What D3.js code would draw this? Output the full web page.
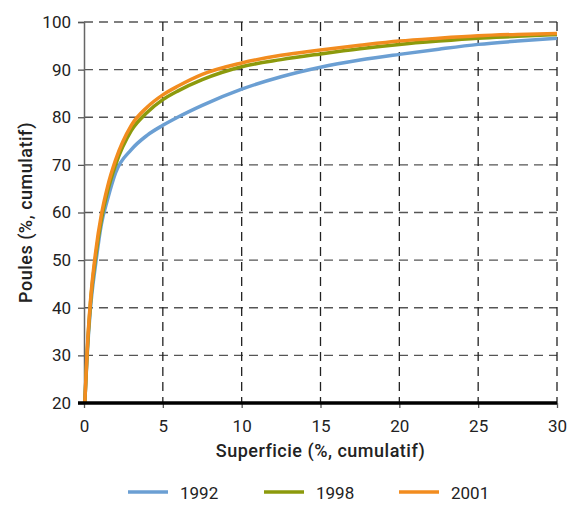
<!DOCTYPE html>
<html>
<head>
<meta charset="utf-8">
<script src="https://cdn.jsdelivr.net/npm/d3@7"></script>
<style>
  body { margin: 0; background: #fff; }
  text { font-family: Roboto, "Open Sans", sans-serif; fill: #222; }
</style>
</head>
<body>
<div id="chart"></div>
<script>
// cumulative surface (%) vs cumulative hens (%)
const superficie = [0.05, 0.2, 0.4, 0.75, 1.1, 1.5, 2, 3, 4, 5, 6, 7.5, 10, 12.5, 15, 17.5, 20, 22.5, 25, 27.5, 30];
const poules1992 = [20, 30, 39.5, 49.5, 57.5, 62.8, 68.3, 73.2, 76.2, 78.3, 80.1, 82.5, 85.9, 88.5, 90.5, 92, 93.2, 94.3, 95.3, 96, 96.6];
const poules1998 = [20, 30.5, 40.5, 51, 58.5, 64.5, 70, 77.2, 81, 83.7, 85.6, 87.9, 90.6, 92.1, 93.3, 94.4, 95.3, 96, 96.6, 97, 97.4];
const poules2001 = [20, 31, 41, 52, 59.5, 65.5, 71, 78.3, 82.1, 84.7, 86.6, 89, 91.4, 93, 94.1, 95.1, 96, 96.6, 97.1, 97.4, 97.6];
const seriesNames = ['1992', '1998', '2001'];
const seriesColors = ['#6b9fd3', '#8c9a0c', '#f28c1f'];
const xTicks = [0, 5, 10, 15, 20, 25, 30];
const yTicks = [20, 30, 40, 50, 60, 70, 80, 90, 100];

const width = 571, height = 505;
const margin = { top: 22, right: 14, bottom: 102, left: 84 };
const w = width - margin.left - margin.right;
const h = height - margin.top - margin.bottom;

const x = d3.scaleLinear().domain([0, 30]).range([0, w]);
const y = d3.scaleLinear().domain([20, 100]).range([h, 0]);

const svg = d3.select('#chart').append('svg')
  .attr('width', width)
  .attr('height', height);

const g = svg.append('g')
  .attr('transform', `translate(${margin.left},${margin.top})`);

// horizontal grid
g.append('g')
  .selectAll('line')
  .data(yTicks.filter(d => d > 20))
  .join('line')
  .attr('x1', 0).attr('x2', w)
  .attr('y1', d => y(d)).attr('y2', d => y(d))
  .attr('stroke', '#555')
  .attr('stroke-width', 1.3)
  .attr('stroke-dasharray', '9,6');

// vertical grid
g.append('g')
  .selectAll('line')
  .data(xTicks.filter(d => d > 0))
  .join('line')
  .attr('x1', d => x(d)).attr('x2', d => x(d))
  .attr('y1', 0).attr('y2', h)
  .attr('stroke', '#222')
  .attr('stroke-width', 1.3)
  .attr('stroke-dasharray', '9,6');

// y axis
const yAxis = g.append('g')
  .call(d3.axisLeft(y).tickValues(yTicks).tickSize(6).tickPadding(7));
yAxis.select('.domain').attr('stroke', '#666').attr('stroke-width', 1.5);
yAxis.selectAll('.tick line').attr('stroke', '#555').attr('stroke-width', 1.3);
yAxis.selectAll('text')
  .style('font-size', '17px')
  .attr('fill', '#222');

// x axis
const xAxis = g.append('g')
  .attr('transform', `translate(0,${h})`)
  .call(d3.axisBottom(x).tickValues(xTicks).tickSize(5).tickPadding(12));
xAxis.select('.domain').remove();
xAxis.selectAll('.tick line').attr('stroke', '#555').attr('stroke-width', 1.3);
xAxis.selectAll('text')
  .style('font-size', '17px')
  .attr('fill', '#222');

const data = [poules1992, poules1998, poules2001].map((vals, i) => ({
  name: seriesNames[i],
  color: seriesColors[i],
  values: superficie.map((s, j) => ({ x: s, y: vals[j] }))
}));

const line = d3.line()
  .x(d => x(d.x))
  .y(d => y(d.y))
  .curve(d3.curveMonotoneX);

g.append('g')
  .selectAll('path')
  .data(data)
  .join('path')
  .attr('d', d => line(d.values))
  .attr('fill', 'none')
  .attr('stroke', d => d.color)
  .attr('stroke-width', 3.5);

// thick baseline
g.append('line')
  .attr('x1', -6).attr('x2', w)
  .attr('y1', h).attr('y2', h)
  .attr('stroke', '#000')
  .attr('stroke-width', 3.5);

// axis titles
svg.append('text')
  .attr('x', margin.left + w / 2)
  .attr('y', 457)
  .attr('text-anchor', 'middle')
  .style('font-size', '18px')
  .style('font-weight', 500)
  .style('letter-spacing', '0.5px')
  .text('Superficie (%, cumulatif)');

svg.append('text')
  .attr('transform', `translate(32,${margin.top + h / 2}) rotate(-90)`)
  .attr('text-anchor', 'middle')
  .style('font-size', '18px')
  .style('font-weight', 500)
  .style('letter-spacing', '0.5px')
  .text('Poules (%, cumulatif)');

// legend
const legendX = [128, 264, 399];
const legend = svg.append('g')
  .selectAll('g')
  .data(data)
  .join('g')
  .attr('transform', (d, i) => `translate(${legendX[i]},492)`);
legend.append('line')
  .attr('x1', 0).attr('x2', 40)
  .attr('stroke', d => d.color)
  .attr('stroke-width', 3.5);
legend.append('text')
  .attr('x', 52)
  .attr('y', 7)
  .style('font-size', '17px')
  .text(d => d.name);
</script>
</body>
</html>
